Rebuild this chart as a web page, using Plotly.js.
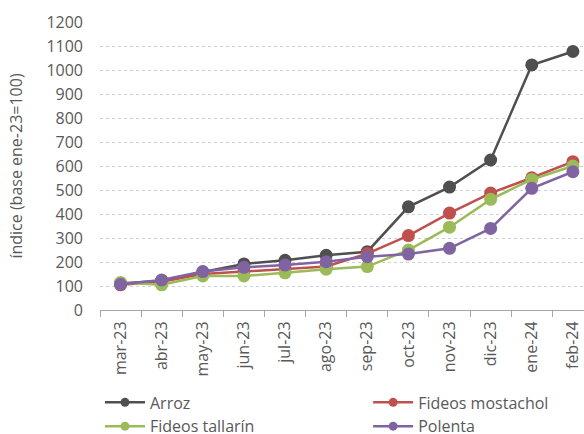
<!DOCTYPE html>
<html>
<head>
<meta charset="utf-8">
<script src="https://cdn.plot.ly/plotly-3.0.1.min.js"></script>
<style>html,body{margin:0;padding:0;background:#fff}#chart{width:584px;height:434px}</style>
</head>
<body>
<div id="chart"></div>
<script>
const months = ["mar-23","abr-23","may-23","jun-23","jul-23","ago-23","sep-23","oct-23","nov-23","dic-23","ene-24","feb-24"];
const arroz = [110, 122, 158, 192, 207, 228, 243, 430, 512, 625, 1021, 1077];
const mostachol = [105, 118, 150, 160, 171, 181, 235, 310, 404, 487, 551, 618];
const tallarin = [115, 105, 142, 142, 155, 170, 181, 250, 345, 461, 544, 600];
const polenta = [107, 125, 160, 178, 187, 201, 222, 233, 257, 340, 507, 576];
const yTicks = [0,100,200,300,400,500,600,700,800,900,1000,1100,1200];
const yTitle = "índice (base ene-23=100)";
const names = ["Arroz", "Fideos mostachol", "Fideos tallarín", "Polenta"];
const colors = ["#4f4f4f", "#c0504d", "#9bbb59", "#8064a2"];
const legendOf = ['legend', 'legend2', 'legend', 'legend2'];
const series = [arroz, mostachol, tallarin, polenta];

const data = [];
series.forEach((y, i) => {
  data.push({x: months, y: y, name: names[i], type: 'scatter', mode: 'lines+markers',
    showlegend: false, line: {color: colors[i], width: 2.5}, marker: {color: colors[i], size: 13}});
});
// legend entries (smaller markers, like the reference)
series.forEach((y, i) => {
  data.push({x: [null], y: [null], name: names[i], type: 'scatter', mode: 'lines+markers',
    legend: legendOf[i], showlegend: true,
    line: {color: colors[i], width: 2.5}, marker: {color: colors[i], size: 9}});
});
const font = {family: '"Open Sans", sans-serif', size: 16, color: '#595959'};
const legBase = {orientation: 'v', xanchor: 'left', y: -0.262, yanchor: 'top', maxheight: 200,
  itemwidth: 40, font: font, tracegroupgap: 0, bgcolor: 'rgba(0,0,0,0)'};
const layout = {
  width: 584, height: 434,
  margin: {l: 100, r: 0, t: 22, b: 124, autoexpand: false},
  paper_bgcolor: '#fff', plot_bgcolor: '#fff',
  font: font,
  showlegend: true,
  legend: Object.assign({}, legBase, {x: 0.0}),
  legend2: Object.assign({}, legBase, {x: 0.554}),
  xaxis: {type: 'category', range: [-0.5, 11.27], tickangle: -90, tickson: 'boundaries',
    ticks: 'outside', ticklen: 6, tickcolor: '#a6a6a6', showline: true, linecolor: '#a6a6a6',
    linewidth: 1, showgrid: false, zeroline: false, tickfont: font, automargin: false,
    ticklabelstandoff: 4},
  yaxis: {range: [0, 1200], tickvals: yTicks, ticktext: yTicks.map(String), showgrid: true,
    gridcolor: '#d0d0d0', griddash: 'dot', gridwidth: 1, zeroline: false, showline: false,
    ticks: '', ticklabelstandoff: 16, tickfont: font, automargin: false,
    title: {text: yTitle, font: font, standoff: 19}}
};
Plotly.newPlot('chart', data, layout, {displayModeBar: false, staticPlot: true});
</script>
</body>
</html>
